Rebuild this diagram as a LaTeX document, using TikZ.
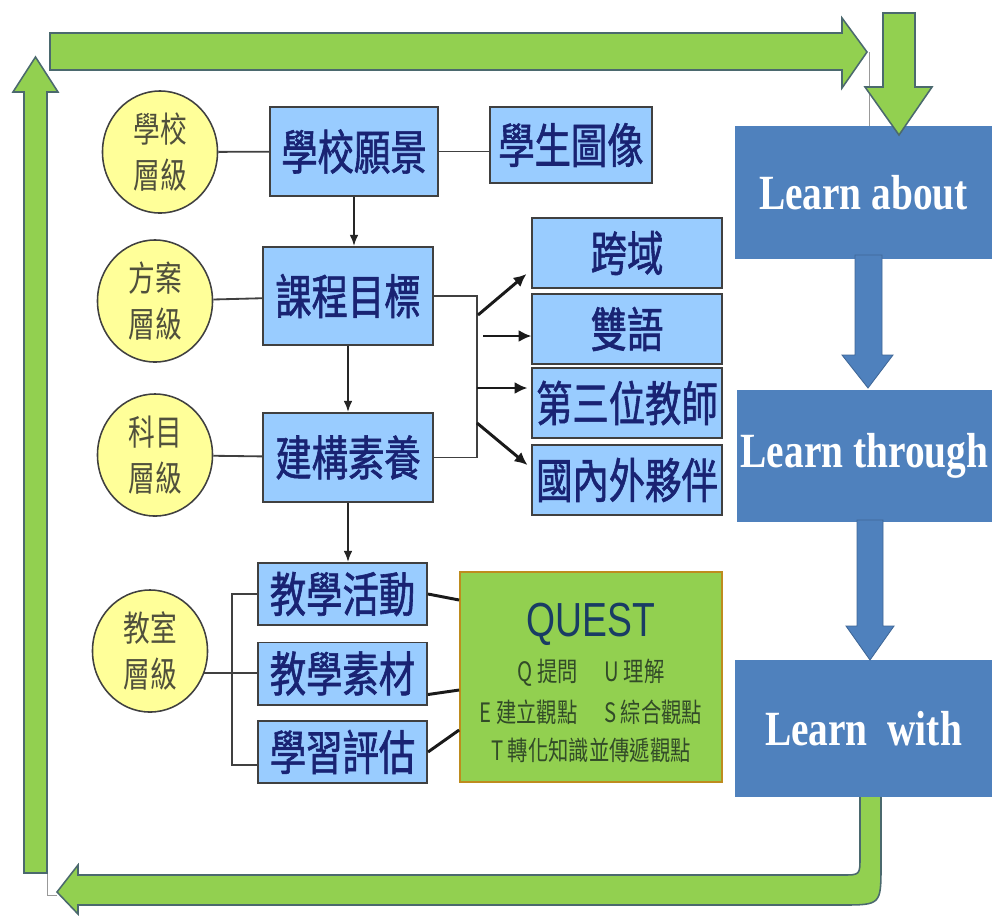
\documentclass[tikz,border=0pt]{standalone}
\usepackage{fontspec}
\setmainfont{Liberation Serif}
\newfontfamily\cjk[FakeStretch=0.76]{Noto Sans CJK TC}
\newfontfamily\cjkbox[FakeStretch=0.76,FakeBold=1.2]{Noto Sans CJK TC}
\newfontfamily\lrnfont[FakeStretch=0.8]{Liberation Serif}
\newfontfamily\qfont[FakeStretch=0.78]{Liberation Sans}
\usetikzlibrary{shapes.geometric,arrows.meta}

\begin{document}
\begin{tikzpicture}[x=0.025cm,y=-0.025cm,
  tier/.style={ellipse,draw=kGrey,fill=kLemon,line width=1.1pt,minimum width=2.875cm,
    minimum height=3.05cm,inner sep=0pt,align=center,text=kOlive,
    font=\cjk\fontsize{25}{33}\selectfont},
  cbox/.style={rectangle,draw=kGrey,fill=kSky,line width=1.4pt,inner sep=0pt,text=kInk,
    font=\cjkbox\fontsize{34}{36}\selectfont},
  lbox/.style={rectangle,fill=kSteel,inner sep=0pt,text=white,
    font=\lrnfont\bfseries\fontsize{35}{36}\selectfont},
  qbox/.style={rectangle,draw=kGold,fill=kGreen,line width=1.2pt,minimum width=6.55cm,
    minimum height=5.25cm},
  qline/.style={text=kMoss,inner sep=0pt,font=\cjk\fontsize{19}{20}\selectfont},
  link/.style={draw=kGrey,line width=1.3pt},
  flow/.style={draw=kGrey!60!black,line width=1.4pt,-{Latex[length=0.28cm,width=0.22cm]}},
  branch/.style={draw=kGrey!40!black,line width=2.1pt,-{Latex[length=0.32cm,width=0.3cm]}},
  qlink/.style={draw=kGrey!40!black,line width=2.1pt},
  garrow/.style={fill=kGreen,draw=kEdge,line width=1.1pt,line join=miter},
  barrow/.style={fill=kSteel,draw=kSteel!80!black,line width=0.6pt},
  hair/.style={draw=black!40,line width=0.5pt}]
  \definecolor{kGreen}{RGB}{146,208,80}
  \definecolor{kEdge}{RGB}{75,105,110}
  \definecolor{kSteel}{RGB}{79,129,189}
  \definecolor{kSky}{RGB}{153,204,255}
  \definecolor{kLemon}{RGB}{255,255,153}
  \definecolor{kInk}{RGB}{25,35,115}
  \definecolor{kGrey}{RGB}{64,64,64}
  \definecolor{kOlive}{RGB}{80,80,60}
  \definecolor{kGold}{RGB}{190,140,30}
  \definecolor{kMoss}{RGB}{50,75,40}
  \definecolor{kQuest}{RGB}{25,60,100}

  \fill[white] (0,0) rectangle (992,917);
  \useasboundingbox (0,0) rectangle (992,917);

  % levels on the left
  \node[tier] (lvSchool)  at (160,152) {學校\\層級};
  \node[tier] (lvProgram) at (155,301) {方案\\層級};
  \node[tier] (lvSubject) at (155,455) {科目\\層級};
  \node[tier] (lvClass)   at (150,651) {教室\\層級};

  % middle column
  \node[cbox,minimum width=4.2cm,minimum height=2.225cm] (vision) at (354,151.5) {學校願景};
  \node[cbox,minimum width=4.05cm,minimum height=1.9cm] (portrait) at (571,145) {學生圖像};
  \node[cbox,minimum width=4.25cm,minimum height=2.45cm] (goal) at (348,296) {課程目標};
  \node[cbox,minimum width=4.25cm,minimum height=2.225cm] (literacy) at (348,457.5) {建構素養};

  \foreach \n/\t/\y in {crossdom/跨域/253,bilingual/雙語/329,thirdtch/第三位教師/403,partner/國內外夥伴/480}
    \node[cbox,minimum width=4.725cm,minimum height=1.75cm] (\n) at (627,\y) {\t};

  \foreach \n/\t/\y in {activity/教學活動/594,material/教學素材/673.5,assess/學習評估/752}
    \node[cbox,minimum width=4.225cm,minimum height=1.55cm] (\n) at (342.5,\y) {\t};

  % QUEST
  \node[qbox] (quest) at (591,677) {};
  \node[text=kQuest,inner sep=0pt,font=\qfont\fontsize{34}{34}\selectfont] (questT) at (591,624) {QUEST};
  \node[qline] (qLine1) at (591,673) {Q 提問\quad U 理解};
  \node[qline] (qLine2) at (591,712) {E 建立觀點\quad S 綜合觀點};
  \node[qline] (qLine3) at (591,750) {T 轉化知識並傳遞觀點};

  % back arrow, under the last box
  \draw[garrow] (860,785) -- (860,857) .. controls (860,875) .. (842,875) -- (78,875) -- (78,865)
    -- (57,892) -- (78,914) -- (78,905) -- (841,905) .. controls (881,905) .. (881,865) -- (881,785) -- cycle;

  % right column
  \node[lbox,minimum width=6.425cm,minimum height=3.325cm] (about) at (863.5,192.5) {Learn about};
  \node[lbox,minimum width=6.375cm,minimum height=3.3cm] (through) at (864.5,456) {Learn through};
  \node[lbox,minimum width=6.425cm,minimum height=3.425cm] (with) at (863.5,728.5) {Learn\ \ with};

  \draw[barrow] (855,255) -- (855,355) -- (842,355) -- (868,388) -- (893,355) -- (882,355) -- (882,255) -- cycle;
  \draw[barrow] (857,520) -- (857,626) -- (846,626) -- (870,660) -- (894,626) -- (883,626) -- (883,520) -- cycle;

  % green loop
  \coordinate (topTip) at (869,52);
  \coordinate (upFoot) at (47,873);
  \coordinate (backTip) at (57,895);
  \draw[hair] (topTip) -- (topTip |- about.north);
  \draw[hair] (upFoot) |- (backTip);
  \draw[garrow] (50,33) -- (842,33) -- (842,18) -- (867,52) -- (842,88) -- (842,70) -- (50,70) -- cycle;
  \draw[garrow] (24,873) -- (24,92) -- (13,92) -- (35.5,57) -- (58,92) -- (47,92) -- (47,873) -- cycle;
  \draw[garrow] (883,13) -- (915,13) -- (915,87) -- (932,87) -- (899,135) -- (865,87) -- (883,87) -- cycle;

  % connectors
  \draw[link] (lvSchool) -- (vision);
  \draw[link] (vision.east) -- (vision.east -| portrait.west);
  \draw[link] (lvProgram) -- (goal);
  \draw[link] (lvSubject) -- (literacy);
  \draw[flow] (vision.south) -- (vision.south |- goal.north);
  \draw[flow] (goal) -- (literacy);
  \draw[flow] (literacy.south) -- (literacy.south |- activity.north);

  \coordinate (brTop) at (477,296);
  \coordinate (brBot) at (477,457.5);
  \draw[link] (goal.east) -- (brTop) -- (brBot) -- (literacy.east);
  \coordinate (br1) at (478,315);
  \coordinate (br2) at (483,336);
  \coordinate (br3) at (477,388);
  \coordinate (br4) at (477,423);
  \draw[branch] (br1) -- ([shift={(-5,-15)}]crossdom.south west);
  \draw[branch] (br2) -- (br2 -| bilingual.west);
  \draw[branch,shorten >=0.1cm] (br3) -- (br3 -| thirdtch.west);
  \draw[branch] (br4) -- ([shift={(-4,-15)}]partner.west);

  \coordinate (cbx) at (232,0);
  \coordinate (asLow) at ([yshift=-0.325cm]assess.west);
  \draw[link] (lvClass.-22) -- (lvClass.-22 -| material.west);
  \draw[link] (activity.west) -- (activity.west -| cbx) -- (asLow -| cbx) -- (asLow);

  \draw[qlink] (activity.east) -- ([shift={(0,-77)}]quest.west);
  \draw[qlink] ([shift={(0,21)}]material.east) -- ([shift={(0,13)}]quest.west);
  \draw[qlink] (assess.east) -- ([shift={(0,53)}]quest.west);
\end{tikzpicture}
\end{document}
